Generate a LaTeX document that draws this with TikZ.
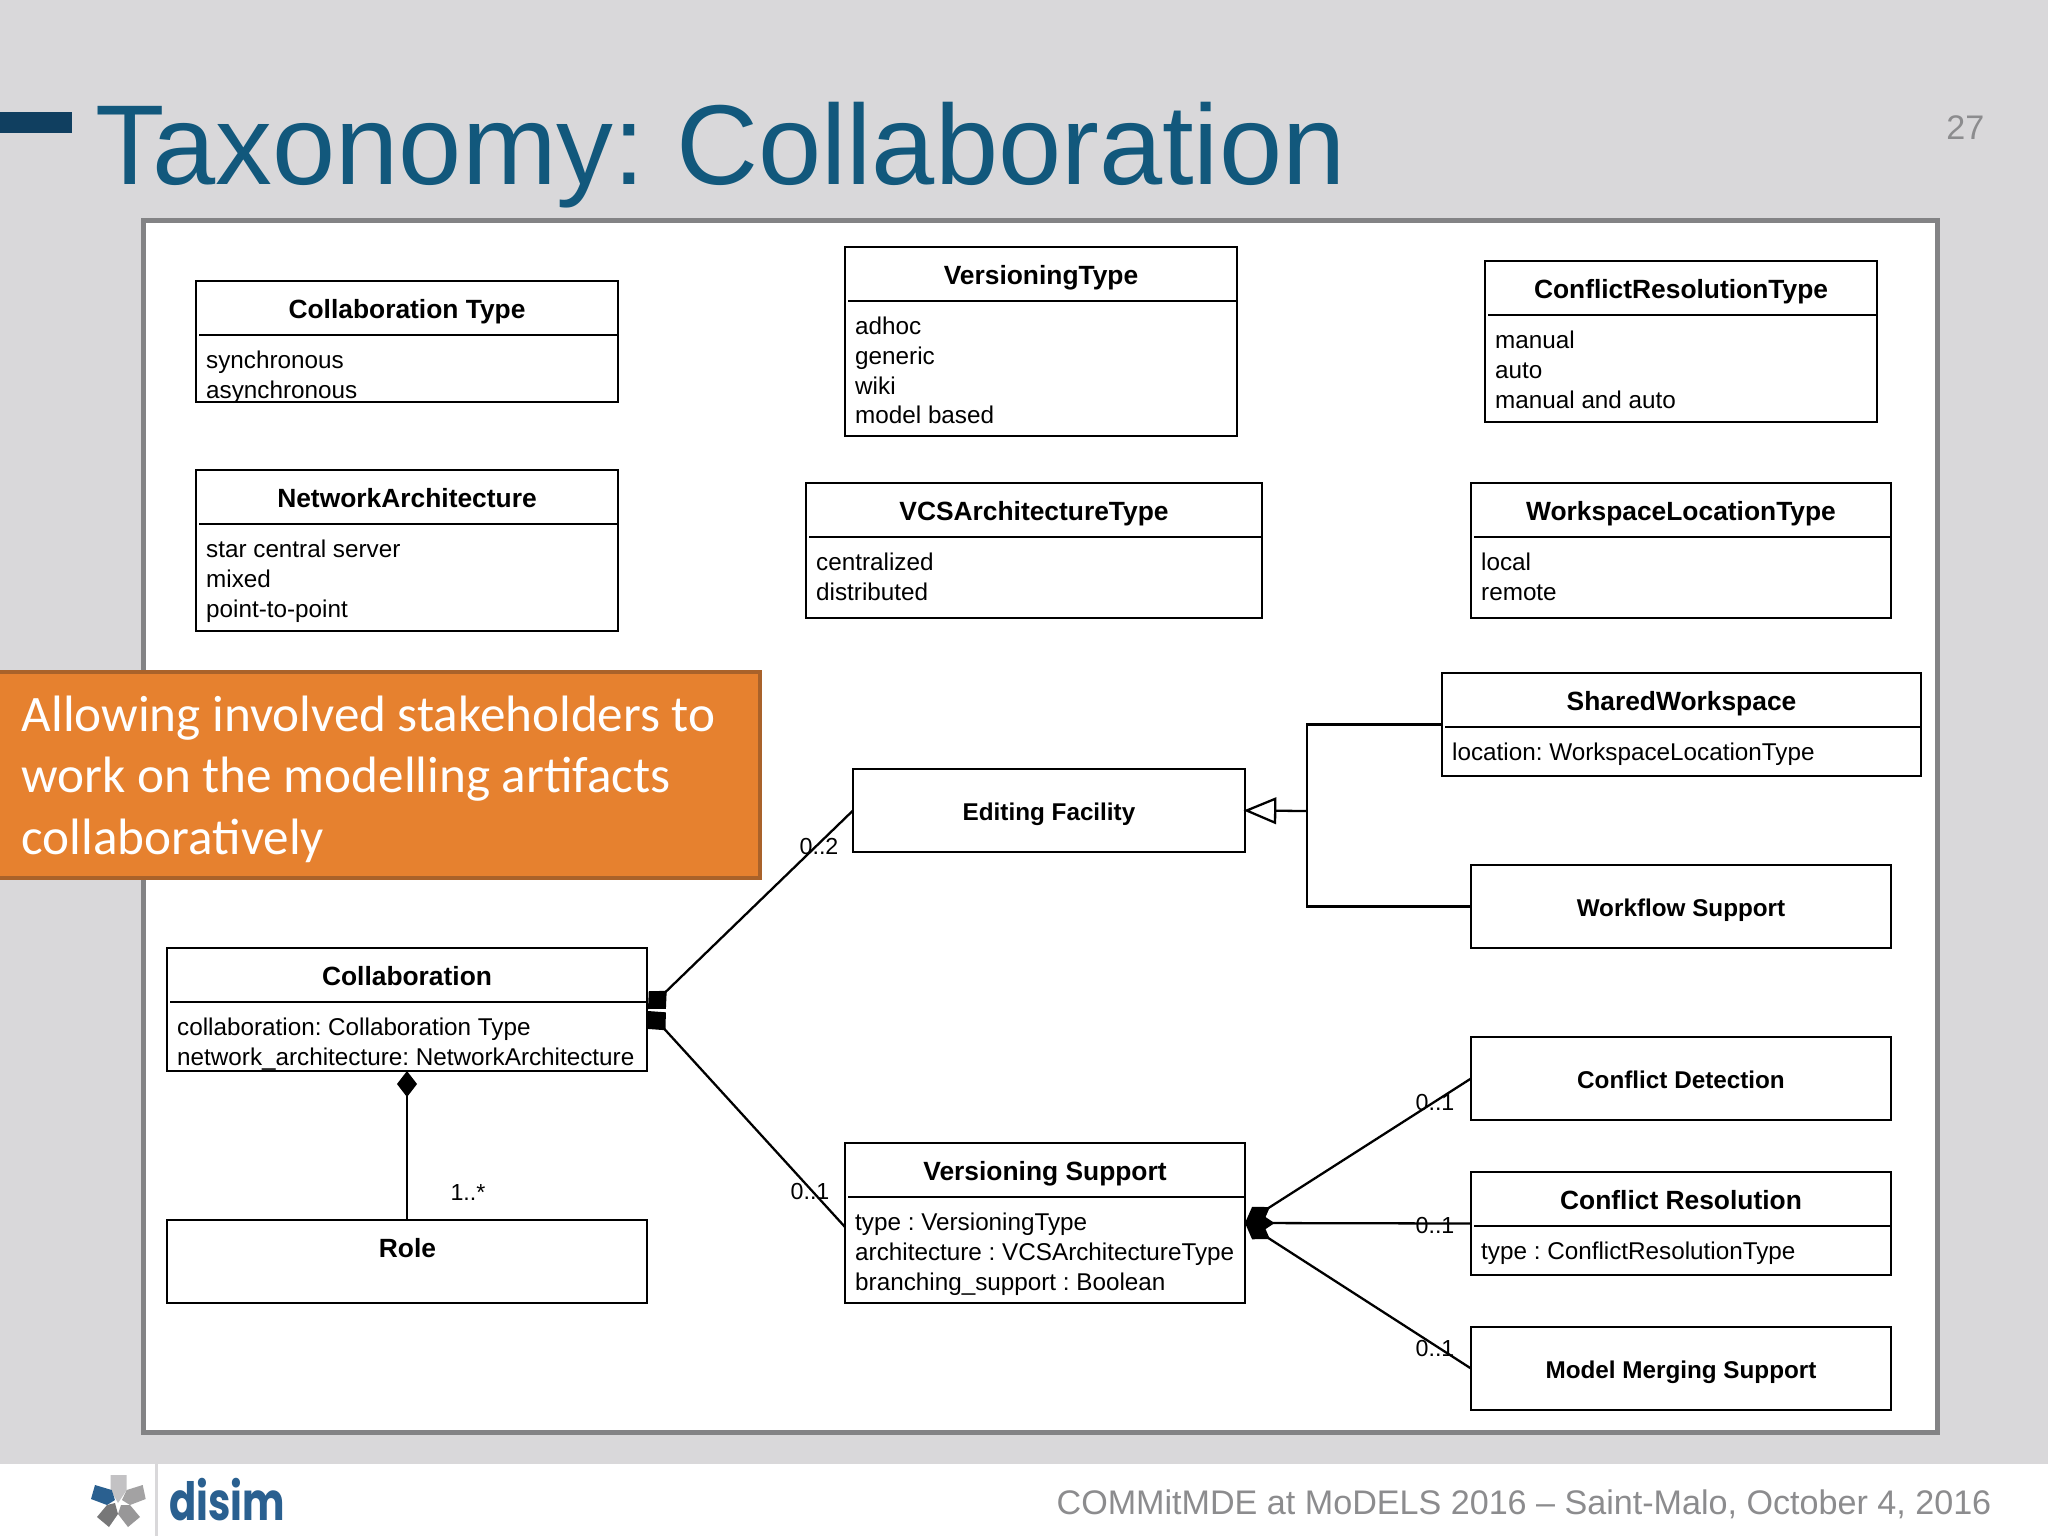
\documentclass[tikz,border=0pt]{standalone}
\usepackage{fontspec}
\setmainfont{Liberation Sans}
\newfontfamily\slidefont{Carlito}
\newfontfamily\logofont{Poppins}
\usetikzlibrary{arrows.meta}
\definecolor{slidegray}{HTML}{D9D8DA}
\definecolor{panelgray}{HTML}{838385}
\definecolor{titleblue}{HTML}{12587C}
\definecolor{barblue}{HTML}{103F60}
\definecolor{calloutfill}{HTML}{E6812F}
\definecolor{calloutedge}{HTML}{A9622A}
\definecolor{footgray}{HTML}{8C8C8E}
\definecolor{logoblue}{HTML}{2A6090}
\tikzset{
	umlbox/.style={draw,line width=.65pt,anchor=north west,inner sep=0pt,outer sep=0pt},
	umlhead/.style={font=\fontsize{7.5}{9}\selectfont\bfseries,inner sep=0pt,anchor=base},
	umlname/.style={font=\fontsize{6.9}{8.5}\selectfont\bfseries,inner sep=0pt,anchor=base},
	umlattrs/.style={font=\fontsize{6.9}{8.5}\selectfont,align=left,anchor=north west,inner sep=0pt},
	umlline/.style={line width=.65pt},
	mult/.style={font=\fontsize{6.6}{8}\selectfont,inner sep=0pt},
}
\begin{document}
\frenchspacing
\begin{tikzpicture}[x=.01cm,y=-.01cm]
	% slide
		\useasboundingbox (0,0) rectangle (2048,1536);
		\fill[slidegray] (0,0) rectangle (2048,1536);
		\fill[white] (0,1464) rectangle (2048,1536);
		\fill[barblue] (0,112) rectangle (72,133);
		\node[anchor=base west,inner sep=0pt,text=titleblue,font=\fontsize{32.3}{36}\selectfont] (slidetitle) at (95,184) {Taxonomy: Collaboration};
		\node[anchor=base east,inner sep=0pt,text=footgray,font=\fontsize{9.7}{11}\selectfont] (pagenumber) at (1985,139) {27};
		\draw[panelgray,line width=1.42pt,fill=white] (143.5,220.5) rectangle (1937,1432);
	% classes with a list of attributes
		\foreach \name/\x/\y/\w/\h/\head/\attrs in {
			colltype/196/281/422/121/Collaboration Type/{synchronous\\asynchronous},
			vertype/845/247/392/189/VersioningType/{adhoc\\generic\\wiki\\model based},
			conftype/1485/261/392/161/ConflictResolutionType/{manual\\auto\\manual and auto},
			nettype/196/470/422/161/NetworkArchitecture/{star central server\\mixed\\point-to-point},
			vcstype/806/483/456/135/VCSArchitectureType/{centralized\\distributed},
			worktype/1471/483/420/135/WorkspaceLocationType/{local\\remote},
			shared/1442/673/479/103/SharedWorkspace/{location: WorkspaceLocationType},
			collab/167/948/480/123/Collaboration/{collaboration: Collaboration Type\\network\_architecture: NetworkArchitecture},
			versioning/845/1143/400/160/Versioning Support/{type : VersioningType\\architecture : VCSArchitectureType\\branching\_support : Boolean},
			confres/1471/1172/420/103/Conflict Resolution/{type : ConflictResolutionType}}{
			\node[umlbox,minimum width=\w*.01cm,minimum height=\h*.01cm] (\name) at (\x,\y) {};
			\node[umlhead] (\name head) at ({\x+\w/2},{\y+37}) {\head};
			\draw[umlline] ({\x+3},{\y+54}) -- ({\x+\w},{\y+54});
			\node[umlattrs] (\name attrs) at ({\x+9.5},{\y+69}) {\attrs};
			}
	% classes with a name only
		\foreach \name/\x/\y/\w/\head in {
			editing/853/769/392/Editing Facility,
			workflow/1471/865/420/Workflow Support,
			confdet/1471/1037/420/Conflict Detection,
			merging/1471/1327/420/Model Merging Support}{
			\node[umlbox,minimum width=\w*.01cm,minimum height=83*.01cm] (\name) at (\x,\y) {};
			\node[umlname] (\name head) at ({\x+\w/2},{\y+51}) {\head};
			}
		\node[umlbox,minimum width=480*.01cm,minimum height=83*.01cm] (role) at (167,1220) {};
		\node[umlhead] (rolehead) at (407.5,1257) {Role};
	% composition
		\coordinate (collabup) at (648,1009);
		\coordinate (collabdown) at (648,1011);
		\draw[umlline,{Diamond[length=7.4pt,width=7pt]}-] (collabup) -- (editing.west);
		\draw[umlline,{Diamond[length=7.4pt,width=7pt]}-] (collabdown) -- (versioning.west |- 0,1227);
		\draw[umlline,{Diamond[length=7.4pt,width=5.7pt]}-] (collab.south) -- (role.north);
		\foreach \target in {confdet,confres,merging}{
			\draw[umlline,{Diamond[length=8.4pt,width=5.6pt]}-] (versioning.east) -- (\target.west);
			}
	% generalization
		\coordinate (genjoin) at (1307,811);
		\draw[umlline,{Triangle[open,length=9.3pt,width=7.6pt]}-,shorten <=-.4pt] (editing.east) -- (genjoin);
		\draw[umlline] (shared.west) -| (genjoin);
		\draw[umlline] (workflow.west) -| (genjoin);
	% multiplicities
		\foreach \name/\x/\y/\lab in {
			multedit/819/846/0..2,
			multvers/810/1191/0..1,
			multrole/468/1192/1..*,
			multdet/1435/1102/0..1,
			multres/1435/1225/0..1,
			multmerge/1435/1348/0..1}{
			\node[mult] (\name) at (\x,\y) {\lab};
			}
	% callout
		\node[draw=calloutedge,fill=calloutfill,line width=1.15pt,anchor=north west,inner sep=0pt,outer sep=0pt,minimum width=762*.01cm,minimum height=206*.01cm] (callout) at (-2,672) {};
		\node[anchor=west,inner sep=0pt,align=left,text=white,font=\slidefont\fontsize{14.55}{17.5}\selectfont] (callouttext) at (21,779) {Allowing involved stakeholders to\\work on the modelling artifacts\\collaboratively};
	% footer
		\fill[slidegray] (155,1464) rectangle (158,1536);
		\foreach \col/\pts in {
			{slidegray!90!black}/{(110.7,1475) -- (126.7,1475) -- (126.7,1490) -- (118,1503) -- (110.7,1490)},
			logoblue/{(95,1485) -- (111.7,1490) -- (115,1500) -- (107,1505) -- (91,1499)},
			{slidegray!75!black}/{(126.7,1490) -- (142.7,1485) -- (145.7,1499) -- (130,1505) -- (122,1500)},
			{slidegray!55!black}/{(107,1505) -- (115,1503) -- (118,1514) -- (109,1527) -- (97,1517)},
			{slidegray!70!black}/{(121,1505) -- (130,1505) -- (140,1517) -- (128,1527) -- (118,1514)}}{
			\fill[\col] \pts -- cycle;
			}
		\node[anchor=base west,inner sep=0pt,text=logoblue,xscale=.76,transform shape,font=\logofont\bfseries\fontsize{15}{16}\selectfont] (logotext) at (169,1520) {disim};
		\node[anchor=base east,inner sep=0pt,text=footgray,font=\fontsize{9.7}{11}\selectfont] (footline) at (1992,1514) {COMMitMDE at MoDELS 2016 -- Saint-Malo, October 4, 2016};
\end{tikzpicture}
\end{document}
